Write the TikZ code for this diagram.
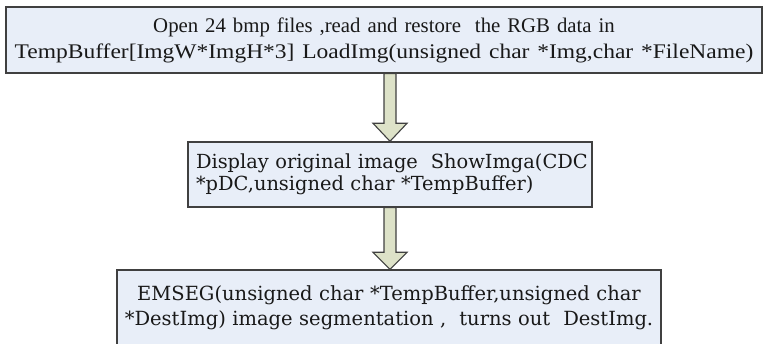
\documentclass[tikz,border=0pt]{standalone}
\usepackage{fontspec}
\setmainfont{Liberation Serif}
\newfontfamily\widefont{DejaVu Serif}
\usetikzlibrary{calc}
\definecolor{boxfill}{RGB}{232,238,248}
\definecolor{boxline}{RGB}{64,64,64}
\definecolor{arrfill}{RGB}{221,226,200}
\definecolor{txt}{RGB}{25,25,25}
\tikzset{
  flowbox/.style={draw=boxline, line width=1.4pt, fill=boxfill, text=txt, inner sep=0pt},
  blockarrow/.style={draw=boxline, line width=1.1pt, fill=arrfill, line join=miter}
}
\begin{document}
\begin{tikzpicture}[x=1pt,y=-1pt]
\useasboundingbox (0,0) rectangle (767,344);
\node[flowbox, minimum width=756pt, minimum height=66pt, text width=750pt, align=center,
  font=\fontsize{20.8}{26}\selectfont]
  (box1) at (384,40) {Open 24 bmp files ,read and restore\ \ the RGB data in\\
  \scalebox{1.13}[1]{TempBuffer[ImgW*ImgH*3] LoadImg(unsigned char *Img,char *FileName)}};
\node[flowbox, minimum width=404pt, minimum height=65pt, text width=388pt, align=left,
  font=\widefont\fontsize{19.4}{22}\selectfont]
  (box2) at (390,174.5) {\mbox{Display original image\ \ ShowImga(CDC}\\\mbox{*pDC,unsigned char *TempBuffer)}};
\node[flowbox, minimum width=544pt, minimum height=76pt, text width=530pt, align=center,
  font=\widefont\fontsize{19.5}{25}\selectfont]
  (box3) at (389,308) {EMSEG(unsigned char *TempBuffer,unsigned char\\{}*DestImg) image segmentation ,\ \ turns out\ \ DestImg.};
\path[blockarrow]
  ($(box2.north |- box1.south)+(-6,0)$) -- ($(box2.north)+(-6,-18)$) -- ($(box2.north)+(-17,-18)$)
  -- (box2.north) -- ($(box2.north)+(17,-18)$) -- ($(box2.north)+(6,-18)$)
  -- ($(box2.north |- box1.south)+(6,0)$) -- cycle;
\path[blockarrow]
  ($(box2.south)+(-6,0)$) -- ($(box2.south |- box3.north)+(-6,-17)$) -- ($(box2.south |- box3.north)+(-17,-17)$)
  -- (box2.south |- box3.north) -- ($(box2.south |- box3.north)+(17,-17)$) -- ($(box2.south |- box3.north)+(6,-17)$)
  -- ($(box2.south)+(6,0)$) -- cycle;
\end{tikzpicture}
\end{document}
